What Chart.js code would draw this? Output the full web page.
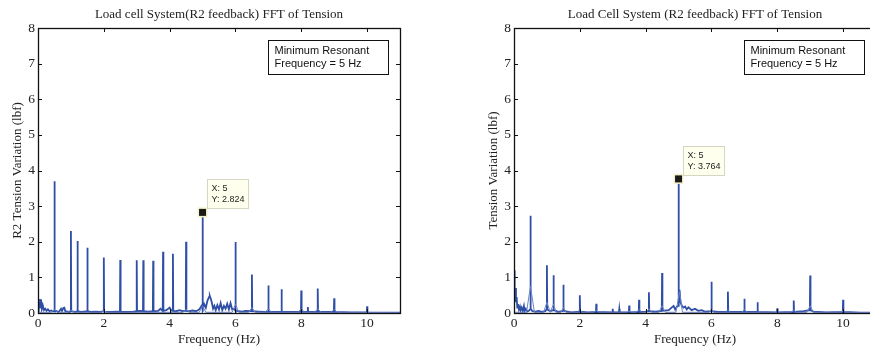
<!DOCTYPE html>
<html>
<head>
<meta charset="utf-8">
<script src="https://cdn.jsdelivr.net/npm/chart.js"></script>
<style>
  html, body { margin: 0; padding: 0; background: #fff; overflow: hidden; }
  body { width: 870px; height: 347px; position: relative; }
  .box { position: absolute; top: 0; height: 347px; }
  #leftBox { left: 0; width: 435px; }
  #rightBox { left: 435px; width: 470px; }
</style>
</head>
<body>
<div class="box" id="leftBox"><canvas id="leftChart"></canvas></div>
<div class="box" id="rightBox"><canvas id="rightChart"></canvas></div>
<script>
// left panel: main trace
var freqL = [0,0.02,0.04,0.06,0.08,0.1,0.12,0.15,0.18,0.22,0.26,0.3,0.35,0.4,0.45,0.49,0.5,0.51,0.56,0.6,0.65,0.7,0.73,0.77,0.8,0.83,0.9,0.96,0.99,1.0,1.01,1.08,1.15,1.19,1.2,1.21,1.3,1.4,1.49,1.5,1.51,1.6,1.75,1.9,1.99,2.0,2.01,2.2,2.4,2.49,2.5,2.51,2.7,2.9,2.99,3.0,3.01,3.1,3.19,3.2,3.21,3.35,3.49,3.5,3.51,3.65,3.72,3.79,3.8,3.81,3.9,4.0,4.05,4.09,4.1,4.11,4.2,4.3,4.4,4.49,4.5,4.51,4.6,4.7,4.8,4.9,4.97,4.99,5.0,5.01,5.05,5.1,5.15,5.2,5.22,5.25,5.28,5.32,5.36,5.4,5.45,5.5,5.55,5.6,5.65,5.7,5.75,5.8,5.85,5.9,5.95,5.99,6.0,6.01,6.1,6.2,6.3,6.49,6.5,6.51,6.7,6.9,6.99,7.0,7.01,7.2,7.39,7.4,7.41,7.7,7.99,8.0,8.01,8.19,8.2,8.21,8.49,8.5,8.51,8.8,8.99,9.0,9.01,9.5,9.99,10.0,10.01,10.5,11];
var tensionL = [0.05,0.3,0.15,0.39,0.25,0.3,0.12,0.2,0.08,0.12,0.06,0.1,0.05,0.07,0.04,0.06,3.7,0.05,0.06,0.03,0.05,0.12,0.06,0.14,0.15,0.05,0.04,0.03,0.06,2.3,0.05,0.04,0.03,0.05,2.02,0.05,0.03,0.04,0.05,1.83,0.05,0.03,0.04,0.03,0.05,1.56,0.04,0.03,0.04,0.03,1.49,0.04,0.03,0.04,0.05,1.48,0.05,0.06,0.05,1.48,0.05,0.04,0.05,1.47,0.05,0.06,0.12,0.06,1.72,0.06,0.08,0.15,0.07,0.06,1.66,0.06,0.05,0.08,0.05,0.07,2.0,0.06,0.05,0.07,0.05,0.1,0.2,0.12,2.824,0.1,0.25,0.15,0.35,0.45,0.48,0.4,0.3,0.12,0.2,0.08,0.22,0.1,0.28,0.08,0.2,0.12,0.26,0.1,0.28,0.1,0.12,0.08,1.99,0.06,0.05,0.04,0.06,0.05,1.08,0.05,0.04,0.03,0.04,0.77,0.04,0.03,0.04,0.67,0.03,0.03,0.04,0.63,0.03,0.03,0.17,0.03,0.04,0.69,0.03,0.03,0.03,0.41,0.03,0.02,0.02,0.19,0.02,0.01,0.01];
// left panel: broad thin trace
var humpFreqL = [0,0.4,0.5,0.6,0.9,1.0,1.1,1.9,2.0,2.1,4.4,4.5,4.6,4.9,5.0,5.1,5.9,6.0,6.1,6.4,6.5,6.6,6.9,7.0,7.1,7.9,8.0,8.1,8.4,8.5,8.6,8.9,9.0,9.1,11];
var humpL = [0.02,0.02,0.1,0.02,0.02,0.08,0.02,0.02,0.06,0.02,0.02,0.1,0.02,0.02,0.2,0.02,0.02,0.25,0.02,0.02,0.15,0.02,0.02,0.12,0.02,0.02,0.12,0.02,0.02,0.12,0.02,0.02,0.1,0.02,0.01];

// right panel: main trace
var freqR = [0,0.01,0.02,0.03,0.04,0.06,0.08,0.1,0.12,0.15,0.18,0.2,0.23,0.26,0.3,0.32,0.36,0.4,0.45,0.49,0.5,0.51,0.56,0.65,0.75,0.85,0.95,0.99,1.0,1.01,1.1,1.19,1.2,1.21,1.35,1.49,1.5,1.51,1.75,1.99,2.0,2.01,2.25,2.49,2.5,2.51,2.99,3.0,3.01,3.19,3.2,3.21,3.49,3.5,3.51,3.79,3.8,3.81,4.0,4.09,4.1,4.11,4.3,4.49,4.5,4.51,4.7,4.85,4.9,4.95,4.99,5.0,5.01,5.03,5.06,5.1,5.15,5.2,5.25,5.3,5.4,5.5,5.6,5.7,5.8,5.99,6.0,6.01,6.2,6.49,6.5,6.51,6.99,7.0,7.01,7.39,7.4,7.41,7.99,8.0,8.01,8.49,8.5,8.51,8.8,8.99,9.0,9.01,9.1,9.5,9.99,10.0,10.01,10.5,11];
var tensionR = [1.2,0.8,1.0,0.5,0.7,0.3,0.45,0.15,0.25,0.1,0.18,0.08,0.15,0.06,0.2,0.05,0.12,0.04,0.06,0.1,2.73,0.12,0.05,0.04,0.06,0.03,0.05,0.1,1.34,0.1,0.05,0.08,1.06,0.08,0.03,0.06,0.79,0.06,0.02,0.04,0.5,0.04,0.02,0.03,0.26,0.03,0.02,0.12,0.02,0.02,0.11,0.02,0.02,0.21,0.02,0.03,0.37,0.03,0.04,0.05,0.58,0.05,0.04,0.06,1.12,0.06,0.08,0.2,0.1,0.18,0.2,3.764,0.4,0.65,0.3,0.2,0.15,0.18,0.1,0.16,0.08,0.12,0.06,0.08,0.04,0.05,0.88,0.05,0.03,0.04,0.6,0.04,0.03,0.4,0.03,0.03,0.3,0.03,0.02,0.13,0.02,0.03,0.35,0.03,0.05,0.08,1.05,0.08,0.04,0.02,0.03,0.37,0.03,0.01,0.01];
// right panel: broad thin trace
var humpFreqR = [0,0.38,0.5,0.62,0.9,1.0,1.1,1.12,1.2,1.28,1.42,1.5,1.58,1.93,2.0,2.07,2.43,2.5,2.57,3.43,3.5,3.57,3.72,3.8,3.88,4.02,4.1,4.18,4.4,4.5,4.6,4.92,5.03,5.12,5.93,6.0,6.07,6.43,6.5,6.57,6.93,7.0,7.07,8.42,8.5,8.58,8.9,9.0,9.1,9.94,10.0,10.06,11];
var humpR = [0.02,0.02,0.75,0.02,0.02,0.3,0.02,0.02,0.25,0.02,0.02,0.15,0.02,0.02,0.1,0.02,0.02,0.08,0.02,0.02,0.05,0.02,0.02,0.1,0.02,0.02,0.12,0.02,0.02,0.2,0.02,0.02,0.6,0.02,0.02,0.1,0.02,0.02,0.1,0.02,0.02,0.1,0.02,0.02,0.08,0.02,0.02,0.2,0.02,0.02,0.05,0.02,0.01];

var xTicks = [0, 2, 4, 6, 8, 10];
var yTicks = [0, 1, 2, 3, 4, 5, 6, 7, 8];
var noteLines = ["Minimum Resonant", "Frequency = 5 Hz"];
var tipL = {x: 5, y: 2.824};
var tipR = {x: 5, y: 3.764};

function toPoints(xs, ys) {
  return xs.map(function (x, i) { return {x: x, y: ys[i]}; });
}

// frame, inward ticks, note box and data tip
var matlabDecor = {
  id: 'matlabDecor',
  afterDraw: function (chart, args, opts) {
    var ctx = chart.ctx, a = chart.chartArea;
    var xs = chart.scales.x, ys = chart.scales.y;
    ctx.save();
    ctx.strokeStyle = '#111';
    ctx.lineWidth = 1;
    ctx.beginPath();
    xTicks.forEach(function (t) {
      var px = Math.round(xs.getPixelForValue(t)) + 0.5;
      ctx.moveTo(px, a.bottom); ctx.lineTo(px, a.bottom - 4);
      ctx.moveTo(px, a.top); ctx.lineTo(px, a.top + 4);
    });
    yTicks.forEach(function (t) {
      var py = Math.round(ys.getPixelForValue(t)) + 0.5;
      ctx.moveTo(a.left, py); ctx.lineTo(a.left + 4, py);
      ctx.moveTo(a.right, py); ctx.lineTo(a.right - 4, py);
    });
    ctx.stroke();
    ctx.lineWidth = 1.3;
    ctx.strokeRect(Math.round(a.left) + 0.5, Math.round(a.top) + 0.5,
      Math.round(a.right - a.left), Math.round(a.bottom - a.top));

    // note box
    var bx = Math.round(a.right) - 131.5, by = Math.round(a.top) + 12.5;
    ctx.fillStyle = '#fff';
    ctx.fillRect(bx, by, 120, 34);
    ctx.strokeStyle = '#111';
    ctx.lineWidth = 1;
    ctx.strokeRect(bx, by, 120, 34);
    ctx.fillStyle = '#111';
    ctx.font = '11px "Liberation Sans", Arial, sans-serif';
    ctx.textBaseline = 'middle';
    ctx.textAlign = 'left';
    ctx.fillText(noteLines[0], bx + 6, by + 10);
    ctx.fillText(noteLines[1], bx + 6, by + 23);

    // data tip
    var tip = opts.tip;
    var mx = xs.getPixelForValue(tip.x), my = ys.getPixelForValue(tip.y);
    ctx.fillStyle = '#f4f0c8';
    ctx.fillRect(mx - 5, my - 5, 10, 10);
    ctx.fillStyle = '#1a1a1a';
    ctx.fillRect(mx - 3.5, my - 3.5, 7, 7);
    var tx = Math.round(mx + 4.5) + 0.5, ty = Math.round(my - 33) + 0.5;
    ctx.fillStyle = '#ffffee';
    ctx.fillRect(tx, ty, 41, 29);
    ctx.strokeStyle = '#d6d6c4';
    ctx.strokeRect(tx, ty, 41, 29);
    ctx.fillStyle = '#222';
    ctx.font = '9px "Liberation Sans", Arial, sans-serif';
    ctx.fillText('X: ' + tip.x, tx + 4, ty + 9);
    ctx.fillText('Y: ' + tip.y, tx + 4, ty + 20);
    ctx.restore();
  }
};

function makeChart(id, title, yTitle, mainX, mainY, humpX, humpY, tip, padLeft, padRight) {
  return new Chart(id, {
    type: 'line',
    data: {
      datasets: [{
        data: toPoints(humpX, humpY),
        borderColor: '#6a84c8',
        borderWidth: 1,
        pointRadius: 0,
        tension: 0
      }, {
        data: toPoints(mainX, mainY),
        borderColor: '#2f4fa6',
        borderWidth: 1.8,
        pointRadius: 0,
        tension: 0
      }]
    },
    options: {
      responsive: false,
      animation: false,
      events: [],
      layout: {padding: {left: padLeft, right: padRight, top: 0, bottom: 0}},
      plugins: {
        legend: {display: false},
        tooltip: {enabled: false},
        title: {
          display: true,
          text: title,
          fullSize: false,
          color: '#222',
          font: {family: '"Liberation Serif", "Times New Roman", serif', size: 13, weight: 'normal', lineHeight: 1.2},
          padding: {top: 7, bottom: 5.4}
        },
        matlabDecor: {tip: tip}
      },
      scales: {
        x: {
          type: 'linear',
          min: 0, max: 11,
          grid: {display: false, drawTicks: false, tickLength: 0},
          border: {display: false},
          afterBuildTicks: function (s) { s.ticks = xTicks.map(function (v) { return {value: v}; }); },
          afterFit: function (s) { s.height = 34; },
          ticks: {
            color: '#222', padding: 2, maxRotation: 0,
            font: {family: '"Liberation Serif", "Times New Roman", serif', size: 13.5}
          },
          title: {
            display: true, text: 'Frequency (Hz)', color: '#222',
            padding: {top: 0, bottom: 0},
            font: {family: '"Liberation Serif", "Times New Roman", serif', size: 13, lineHeight: 1.2}
          }
        },
        y: {
          min: 0, max: 8,
          grid: {display: false, drawTicks: false, tickLength: 0},
          border: {display: false},
          afterBuildTicks: function (s) { s.ticks = yTicks.map(function (v) { return {value: v}; }); },
          afterFit: function (s) { s.width = 38; },
          ticks: {
            color: '#222', padding: 3,
            font: {family: '"Liberation Serif", "Times New Roman", serif', size: 13.5}
          },
          title: {
            display: true, text: yTitle, color: '#222',
            padding: {top: 10, bottom: 10},
            font: {family: '"Liberation Serif", "Times New Roman", serif', size: 13, lineHeight: 1.2}
          }
        }
      }
    },
    plugins: [matlabDecor]
  });
}

var cl = document.getElementById('leftChart');
cl.width = 435; cl.height = 347;
var cr = document.getElementById('rightChart');
cr.width = 470; cr.height = 347;

makeChart('leftChart', 'Load cell System(R2 feedback) FFT of Tension', 'R2 Tension Variation (lbf)',
  freqL, tensionL, humpFreqL, humpL, tipL, 0, 35);
makeChart('rightChart', 'Load Cell System (R2 feedback) FFT of Tension', 'Tension Variation (lbf)',
  freqR, tensionR, humpFreqR, humpR, tipR, 41, 29);
</script>
</body>
</html>
